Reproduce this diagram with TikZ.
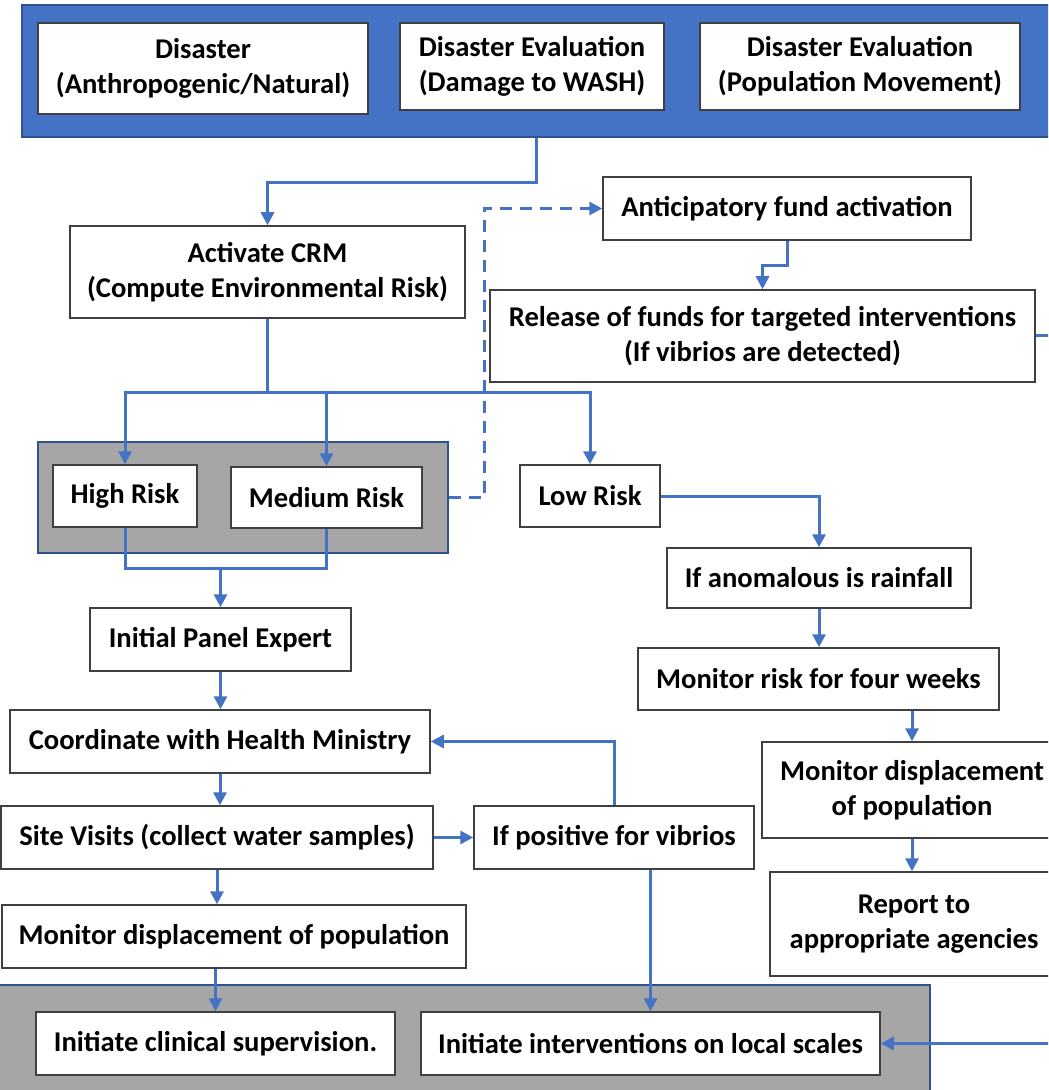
\documentclass[tikz,border=0pt]{standalone}
\usepackage{fontspec}
\setmainfont{Carlito}
\usetikzlibrary{arrows.meta}
\definecolor{flowblue}{HTML}{4472C4}
\definecolor{panelgray}{HTML}{A6A6A6}
\definecolor{edgeblue}{HTML}{2F528F}
\begin{document}
\begin{tikzpicture}[x=0.5pt,y=-0.5pt,
    box/.style={draw=black!75,line width=0.75pt,fill=white,align=center,inner sep=0pt,
        font=\bfseries\fontsize{14.3}{17.5}\selectfont},
    grp/.style={draw=edgeblue,line width=1pt,inner sep=0pt},
    flow/.style={draw=flowblue,line width=1.5pt,-{Triangle[width=6.5pt,length=6.5pt]}},
    link/.style={draw=flowblue,line width=1.5pt}]
    \clip (0,0) rectangle (1048,1090);

    % background panels
    \node[grp,fill=flowblue,minimum width=524pt,minimum height=66pt] (topgrp) at (546,71) {};
    \node[grp,fill=panelgray,minimum width=205pt,minimum height=55.5pt] (hmgrp) at (243,497.5) {};
    \node[grp,fill=panelgray,minimum width=470pt,minimum height=57.5pt] (botgrp) at (460,1042.5) {};

    \node[box,minimum width=165pt,minimum height=45.5pt] (dis) at (203,68.5) {Disaster\\(Anthropogenic/Natural)};
    \node[box,minimum width=132pt,minimum height=43.5pt] (wash) at (532,66.5) {Disaster Evaluation\\(Damage to WASH)};
    \node[box,minimum width=160pt,minimum height=43.5pt] (pop) at (860,66.5) {Disaster Evaluation\\(Population Movement)};

    \node[box,minimum width=197.5pt,minimum height=46pt] (crm) at (267.5,272) {Activate CRM\\(Compute Environmental Risk)};
    \node[box,minimum width=184pt,minimum height=31.5pt] (fund) at (787,208.5) {Anticipatory fund activation};
    \node[box,minimum width=272.5pt,minimum height=46pt] (release) at (762.5,336) {Release of funds for targeted interventions\\(If vibrios are detected)};

    \node[box,minimum width=72pt,minimum height=31pt] (high) at (125,496) {High Risk};
    \node[box,minimum width=95.5pt,minimum height=30.5pt] (med) at (326.5,497.5) {Medium Risk};
    \node[box,minimum width=70pt,minimum height=31pt] (low) at (590,496) {Low Risk};

    \node[box,minimum width=130.5pt,minimum height=31.5pt] (panel) at (220.5,639.5) {Initial Panel Expert};
    \node[box,minimum width=210pt,minimum height=31.5pt] (coord) at (220,741.5) {Coordinate with Health Ministry};
    \node[box,minimum width=216pt,minimum height=31.5pt] (site) at (217,837.5) {Site Visits (collect water samples)};
    \node[box,minimum width=140pt,minimum height=31.5pt] (ifpos) at (614,837.5) {If positive for vibrios};
    \node[box,minimum width=232pt,minimum height=31.5pt] (monpop) at (234,936.5) {Monitor displacement of population};
    \node[box,minimum width=179.5pt,minimum height=31.5pt] (clin) at (215.5,1043.5) {Initiate clinical supervision.};
    \node[box,minimum width=229.5pt,minimum height=31.5pt] (local) at (650.5,1043.5) {Initiate interventions on local scales};

    \node[box,minimum width=152pt,minimum height=30pt] (rain) at (819,578) {If anomalous is rainfall};
    \node[box,minimum width=180.5pt,minimum height=31pt] (monrisk) at (818.5,679) {Monitor risk for four weeks};
    \node[box,minimum width=150pt,minimum height=48pt] (mondisp) at (912,790) {Monitor displacement\\of population};
    \node[box,minimum width=144pt,minimum height=52pt] (report) at (914,924) {Report to\\appropriate agencies};

    % connectors
    \draw[flow] ([xshift=2pt]wash.south |- topgrp.south) -- ++(0,45) -| (crm.north);
    \draw[link] (crm.south) -- ++(0,74) coordinate (split);
    \draw[flow] (split) -| (high.north);
    \draw[flow] (split) -| (med.north);
    \draw[flow] (split) -| (low.north);
    \draw[flow,dash pattern=on 6pt off 4pt] (hmgrp.east) -- ++(35,0) |- (fund.west);
    \draw[flow] (fund.south) -- ++(0,25) -| (release.north);
    \draw[flow] (release.east) -- ++(30,0) |- (local.east);

    \draw[link] (high.south) -- ++(0,41) coordinate (merge) -| (med.south);
    \draw[flow] (merge -| panel.north) -- (panel.north);
    \draw[flow] (panel.south) -- (panel.south |- coord.north);
    \draw[flow] (coord.south) -- (coord.south |- site.north);
    \draw[flow] (site.east) -- (ifpos.west);
    \draw[flow] (ifpos.north) |- (coord.east);
    \draw[flow] (site.south) -- (site.south |- monpop.north);
    \draw[flow] (ifpos.south -| local.north) -- (local.north);
    \draw[flow] (clin.north |- monpop.south) -- (clin.north);

    \draw[flow] (low.east) -| (rain.north);
    \draw[flow] (rain.south) -- (rain.south |- monrisk.north);
    \draw[flow] (mondisp.north |- monrisk.south) -- (mondisp.north);
    \draw[flow] (mondisp.south) -- (mondisp.south |- report.north);
\end{tikzpicture}
\end{document}
